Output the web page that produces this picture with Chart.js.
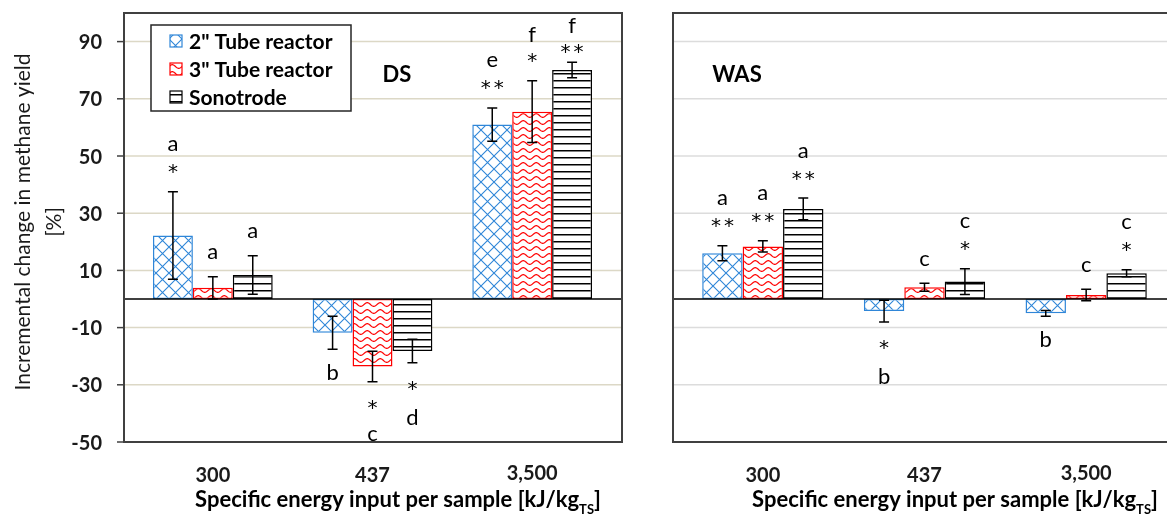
<!DOCTYPE html>
<html>
<head>
<meta charset="utf-8">
<script src="https://cdn.jsdelivr.net/npm/chart.js@4"></script>
<style>
  body { margin: 0; background: #fff; }
  #wrap { position: relative; width: 1167px; height: 518px; overflow: hidden; background: #fff; }
  #grafDS { position: absolute; left: 0; top: 0; }
  #grafWAS { position: absolute; left: 648px; top: 0; }
</style>
</head>
<body>
<div id="wrap">
  <canvas id="grafDS" width="648" height="518"></canvas>
  <canvas id="grafWAS" width="519" height="518"></canvas>
</div>
<script>
const categorias = ['300', '437', '3,500'];
const nomesSeries = ['2" Tube reactor', '3" Tube reactor', 'Sonotrode'];
const yTicks = [-50, -30, -10, 10, 30, 50, 70, 90];

// DS - media e desvio (%)
const ds2 = [22.2, -11.8, 61.0];
const ds2Err = [15.3, 5.8, 5.8];
const ds3 = [3.9, -23.6, 65.5];
const ds3Err = [3.9, 5.3, 10.8];
const dsSono = [8.4, -18.2, 80.1];
const dsSonoErr = [6.7, 4.1, 2.7];

// WAS
const was2 = [16.0, -4.2, -5.0];
const was2Err = [2.6, 3.8, 1.0];
const was3 = [18.4, 4.1, 1.4];
const was3Err = [2.0, 1.4, 2.0];
const wasSono = [31.5, 6.1, 9.0];
const wasSonoErr = [3.8, 4.5, 1.2];

// letras e asteriscos (da barra para fora)
const ds2Marcas = [['*', 'a'], ['b'], ['**', 'e']];
const ds3Marcas = [['a'], ['*', 'c'], ['*', 'f']];
const dsSonoMarcas = [['a'], ['*', 'd'], ['**', 'f']];
const was2Marcas = [['**', 'a'], ['*', 'b'], ['b']];
const was3Marcas = [['**', 'a'], ['c'], ['c']];
const wasSonoMarcas = [['**', 'a'], ['*', 'c'], ['*', 'c']];

const FONTE = 'Lato, "Open Sans", sans-serif';
const AZUL = '#2f86d8';
const VERMELHO = '#ff0000';
const PRETO = '#000000';

function tile(w, h) {
    const c = document.createElement('canvas');
    c.width = w; c.height = h;
    const g = c.getContext('2d');
    g.fillStyle = '#fff';
    g.fillRect(0, 0, w, h);
    return [c, g];
}

function padroes(ctx) {
    // losangos azuis
    const [c1, g1] = tile(13, 13);
    g1.strokeStyle = AZUL; g1.lineWidth = 1.1;
    g1.beginPath();
    g1.moveTo(-1, -1); g1.lineTo(14, 14);
    g1.moveTo(14, -1); g1.lineTo(-1, 14);
    g1.stroke();

    // ondas vermelhas
    const [c2, g2] = tile(13, 7);
    g2.strokeStyle = VERMELHO; g2.lineWidth = 1.2;
    g2.beginPath();
    for (let x = -1; x <= 14; x += 0.5) {
        const yy = 3.5 - 1.8 * Math.sin(x / 13 * 2 * Math.PI);
        if (x === -1) g2.moveTo(x, yy); else g2.lineTo(x, yy);
    }
    g2.stroke();

    // linhas horizontais pretas
    const [c3, g3] = tile(4, 7);
    g3.fillStyle = PRETO;
    g3.fillRect(0, 3, 4, 1.5);

    return [ctx.createPattern(c1, 'repeat'), ctx.createPattern(c2, 'repeat'), ctx.createPattern(c3, 'repeat')];
}

function textoCentro(ctx, txt, x, cy) {
    const m = ctx.measureText(txt);
    ctx.fillText(txt, x, cy + (m.actualBoundingBoxAscent - m.actualBoundingBoxDescent) / 2);
}

function desenhaMarca(ctx, txt, x, cy) {
    if (txt.startsWith('*')) {
        ctx.font = '20px "DejaVu Sans", sans-serif';
        ctx.letterSpacing = '3px';
        // letterSpacing empurra o texto; compensa metade
        textoCentro(ctx, txt, x + 1.5, cy);
        ctx.letterSpacing = '0px';
    } else {
        ctx.font = '22px ' + FONTE;
        textoCentro(ctx, txt, x, cy);
    }
}

function tituloX(ctx, cx, base) {
    const p1 = 'Specific energy input per sample [kJ/kg';
    const p2 = 'TS';
    const p3 = ']';
    ctx.font = 'bold 22px ' + FONTE;
    const w1 = ctx.measureText(p1).width, w3 = ctx.measureText(p3).width;
    ctx.font = 'bold 13px ' + FONTE;
    const w2 = ctx.measureText(p2).width;
    let x = cx - (w1 + w2 + w3) / 2;
    ctx.textAlign = 'left';
    ctx.textBaseline = 'alphabetic';
    ctx.font = 'bold 22px ' + FONTE;
    ctx.fillText(p1, x, base);
    ctx.font = 'bold 13px ' + FONTE;
    ctx.fillText(p2, x + w1, base + 7);
    ctx.font = 'bold 22px ' + FONTE;
    ctx.fillText(p3, x + w1 + w2, base);
}

const moldura = {
    id: 'moldura',
    beforeDatasetsDraw(chart, args, opts) {
        const { ctx, chartArea, scales: { y } } = chart;
        const esq = chartArea.left - 9;
        const dir = opts.direita != null ? opts.direita : chartArea.right + 10;
        ctx.save();
        ctx.strokeStyle = opts.corGrade;
        ctx.lineWidth = 1.5;
        yTicks.slice(1).forEach(v => {
            const py = y.getPixelForValue(v);
            ctx.beginPath();
            ctx.moveTo(esq, py); ctx.lineTo(dir, py);
            ctx.stroke();
        });
        ctx.restore();
    },
    afterDatasetsDraw(chart, args, opts) {
        const { ctx, chartArea, scales: { x, y } } = chart;
        const esq = chartArea.left - 9;
        const dir = opts.direita != null ? opts.direita : chartArea.right + 10;
        const topo = chartArea.top, fundo = chartArea.bottom;
        ctx.save();

        // linha do zero
        const zero = y.getPixelForValue(0);
        ctx.strokeStyle = PRETO; ctx.lineWidth = 1.5;
        ctx.beginPath(); ctx.moveTo(esq, zero); ctx.lineTo(dir, zero); ctx.stroke();

        // barras de erro e letras
        chart.data.datasets.forEach((ds, i) => {
            const meta = chart.getDatasetMeta(i);
            ds.data.forEach((v, j) => {
                const px = meta.data[j].x;
                const e = ds.erros[j];
                const a = y.getPixelForValue(v + e), b = y.getPixelForValue(v - e);
                ctx.strokeStyle = PRETO; ctx.lineWidth = 1.5;
                ctx.beginPath();
                ctx.moveTo(px, a); ctx.lineTo(px, b);
                ctx.moveTo(px - 5, a); ctx.lineTo(px + 5, a);
                ctx.moveTo(px - 5, b); ctx.lineTo(px + 5, b);
                ctx.stroke();

                const marcas = ds.marcas[j];
                ctx.fillStyle = PRETO;
                ctx.textAlign = 'center';
                ctx.textBaseline = 'alphabetic';
                if (v >= 0) {
                    const offs = [-23, -46];
                    let desl = 0;
                    const ult = a + offs[marcas.length - 1];
                    if (ult < 25) desl = 25 - ult;
                    marcas.forEach((m, k) => desenhaMarca(ctx, m, px, a + offs[k] + desl));
                } else {
                    const offs = [23, 54];
                    marcas.forEach((m, k) => desenhaMarca(ctx, m, px, b + offs[k]));
                }
            });
        });

        // moldura
        ctx.strokeStyle = '#404040'; ctx.lineWidth = 2;
        ctx.beginPath();
        if (opts.direita != null) {
            ctx.moveTo(dir, topo); ctx.lineTo(esq, topo); ctx.lineTo(esq, fundo); ctx.lineTo(dir, fundo);
        } else {
            ctx.rect(esq, topo, dir - esq, fundo - topo);
        }
        ctx.stroke();

        // eixo y com marcas e rotulos
        if (opts.eixoY) {
            ctx.strokeStyle = '#404040'; ctx.lineWidth = 1.5;
            ctx.fillStyle = '#1a1a1a';
            ctx.font = 'bold 20px ' + FONTE;
            ctx.textAlign = 'right';
            yTicks.forEach(v => {
                const py = y.getPixelForValue(v);
                ctx.beginPath(); ctx.moveTo(esq - 7, py); ctx.lineTo(esq, py); ctx.stroke();
                textoCentro(ctx, String(v), esq - 22, py);
            });
            // titulo do eixo y, duas linhas
            ctx.fillStyle = '#1a1a1a';
            ctx.font = '21px ' + FONTE;
            ctx.textAlign = 'center';
            [['Incremental change in methane yield', 24], ['[%]', 54]].forEach(([t, cx]) => {
                ctx.save();
                ctx.translate(cx, 222);
                ctx.rotate(-Math.PI / 2);
                textoCentro(ctx, t, 0, 0);
                ctx.restore();
            });
        }

        // rotulos das categorias
        ctx.fillStyle = '#1a1a1a';
        ctx.font = 'bold 20px ' + FONTE;
        ctx.textAlign = 'center';
        categorias.forEach((c, j) => textoCentro(ctx, c, x.getPixelForValue(j), 474));
        ctx.fillStyle = PRETO;
        tituloX(ctx, opts.centroTitulo, 507);

        // nome do substrato
        ctx.fillStyle = PRETO;
        ctx.font = 'bold 22px ' + FONTE;
        ctx.textAlign = 'center';
        textoCentro(ctx, opts.nome, opts.nomeX, 73);

        // legenda
        if (opts.legenda) {
            ctx.fillStyle = '#fff';
            ctx.fillRect(151, 25, 200, 86);
            ctx.strokeStyle = '#262626'; ctx.lineWidth = 1.5;
            ctx.strokeRect(151, 25, 200, 86);
            ctx.font = 'bold 21px ' + FONTE;
            ctx.textAlign = 'left';
            chart.data.datasets.forEach((ds, i) => {
                const cy = 41 + i * 28;
                ctx.fillStyle = ds.backgroundColor;
                ctx.fillRect(170, cy - 6, 12, 12);
                ctx.strokeStyle = ds.borderColor; ctx.lineWidth = 1.2;
                ctx.strokeRect(170, cy - 6, 12, 12);
                ctx.fillStyle = PRETO;
                textoCentro(ctx, ds.label, 189, cy);
            });
        }
        ctx.restore();
    }
};

function montaDatasets(ctx, valores, erros, marcas) {
    const pad = padroes(ctx);
    const bordas = [AZUL, VERMELHO, PRETO];
    return valores.map((v, i) => ({
        label: nomesSeries[i],
        data: v,
        erros: erros[i],
        marcas: marcas[i],
        backgroundColor: pad[i],
        borderColor: bordas[i],
        borderWidth: 1.5,
        borderSkipped: false,
        categoryPercentage: 0.75,
        barPercentage: 1.0
    }));
}

function criaGrafico(id, padding, valores, erros, marcas, extra) {
    const ctx = document.getElementById(id).getContext('2d');
    return new Chart(ctx, {
        type: 'bar',
        data: {
            labels: categorias,
            datasets: montaDatasets(ctx, valores, erros, marcas)
        },
        options: {
            responsive: false,
            animation: false,
            devicePixelRatio: 1,
            layout: { padding: padding },
            plugins: {
                legend: { display: false },
                tooltip: { enabled: false },
                moldura: extra
            },
            scales: {
                x: { display: false },
                y: { display: false, min: -50, max: 100 }
            }
        },
        plugins: [moldura]
    });
}

criaGrafico('grafDS', { left: 133, right: 36, top: 13, bottom: 76 },
    [ds2, ds3, dsSono], [ds2Err, ds3Err, dsSonoErr], [ds2Marcas, ds3Marcas, dsSonoMarcas],
    { corGrade: '#dcd8c6', eixoY: true, legenda: true, nome: 'DS', nomeX: 397, centroTitulo: 398 });

criaGrafico('grafWAS', { left: 34, right: 0, top: 13, bottom: 76 },
    [was2, was3, wasSono], [was2Err, was3Err, wasSonoErr], [was2Marcas, was3Marcas, wasSonoMarcas],
    { corGrade: '#dcdcdc', direita: 519, eixoY: false, legenda: false, nome: 'WAS', nomeX: 89, centroTitulo: 307 });
</script>
</body>
</html>
